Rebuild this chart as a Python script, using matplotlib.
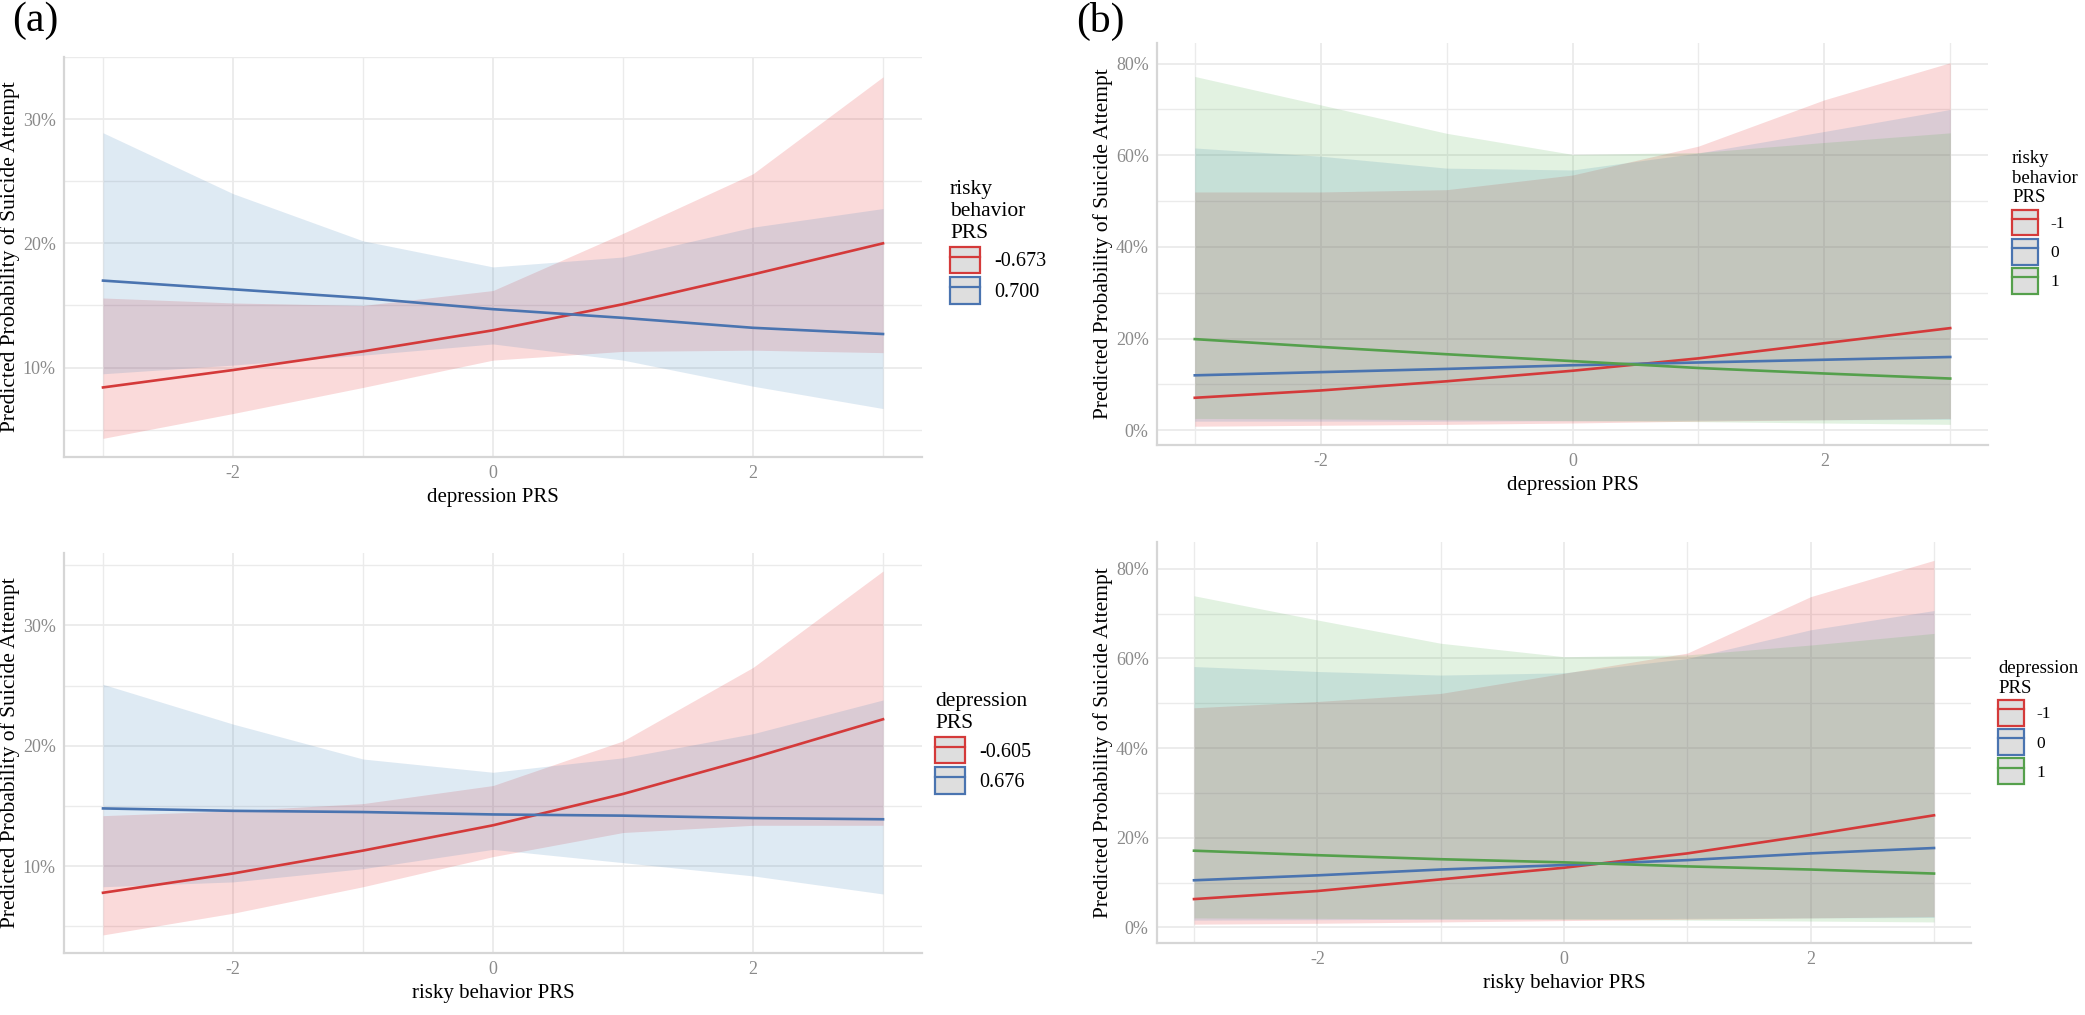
import matplotlib

matplotlib.use("Agg")

import matplotlib.pyplot as plt
from matplotlib.lines import Line2D
from matplotlib.patches import Patch
from matplotlib.legend_handler import HandlerTuple
from matplotlib.ticker import FixedLocator, FuncFormatter

plt.rcParams["font.family"] = ["Liberation Serif", "DejaVu Serif"]
plt.rcParams["axes.unicode_minus"] = False

# x grid (PRS, standardised)
X = [-3, -2, -1, 0, 1, 2, 3]

# (a) top: x = depression PRS, moderator = risky behavior PRS
a1_labels = ["-0.673", "0.700"]
a1_red_fit = [8.4, 9.8, 11.3, 13.0, 15.1, 17.5, 20.0]
a1_red_lo = [4.3, 6.3, 8.4, 10.6, 11.3, 11.4, 11.2]
a1_red_hi = [15.6, 15.2, 15.0, 16.2, 20.8, 25.6, 33.4]
a1_blue_fit = [17.0, 16.3, 15.6, 14.7, 14.0, 13.2, 12.7]
a1_blue_lo = [9.5, 10.2, 11.0, 11.9, 10.6, 8.5, 6.7]
a1_blue_hi = [28.9, 24.0, 20.2, 18.1, 18.9, 21.3, 22.8]

# (a) bottom: x = risky behavior PRS, moderator = depression PRS
a2_labels = ["-0.605", "0.676"]
a2_red_fit = [7.8, 9.4, 11.3, 13.4, 16.0, 19.0, 22.2]
a2_red_lo = [4.3, 6.1, 8.3, 10.8, 12.8, 13.4, 13.4]
a2_red_hi = [14.2, 14.6, 15.2, 16.7, 20.4, 26.5, 34.5]
a2_blue_fit = [14.8, 14.6, 14.5, 14.3, 14.2, 14.0, 13.9]
a2_blue_lo = [8.3, 8.7, 9.8, 11.4, 10.3, 9.2, 7.7]
a2_blue_hi = [25.1, 21.8, 18.9, 17.8, 19.0, 21.0, 23.8]

# (b) top: x = depression PRS, moderator = risky behavior PRS (-1, 0, 1)
b1_labels = ["-1", "0", "1"]
b1_red_fit = [7.1, 8.7, 10.7, 13.0, 15.7, 19.0, 22.3]
b1_red_lo = [0.9, 1.1, 1.3, 1.6, 2.0, 2.3, 2.6]
b1_red_hi = [52.0, 52.0, 52.5, 55.7, 62.0, 72.1, 80.2]
b1_blue_fit = [12.0, 12.7, 13.4, 14.2, 14.8, 15.4, 16.0]
b1_blue_lo = [2.0, 2.0, 2.0, 2.1, 2.2, 2.3, 2.4]
b1_blue_hi = [61.6, 59.8, 57.2, 56.8, 60.5, 65.2, 70.0]
b1_green_fit = [19.9, 18.2, 16.6, 15.1, 13.6, 12.4, 11.3]
b1_green_lo = [2.6, 2.5, 2.3, 2.1, 1.9, 1.6, 1.3]
b1_green_hi = [77.2, 71.0, 64.8, 60.2, 60.6, 62.8, 64.9]

# (b) bottom: x = risky behavior PRS, moderator = depression PRS (-1, 0, 1)
b2_labels = ["-1", "0", "1"]
b2_red_fit = [6.3, 8.1, 10.7, 13.3, 16.5, 20.6, 25.0]
b2_red_lo = [0.7, 0.9, 1.2, 1.5, 1.8, 2.1, 2.4]
b2_red_hi = [49.0, 50.4, 52.2, 56.7, 61.2, 73.8, 81.9]
b2_blue_fit = [10.5, 11.6, 12.9, 13.9, 15.0, 16.5, 17.7]
b2_blue_lo = [1.6, 1.7, 1.8, 1.9, 2.0, 2.1, 2.2]
b2_blue_hi = [58.2, 57.1, 56.3, 56.8, 60.0, 66.4, 70.7]
b2_green_fit = [17.1, 16.1, 15.2, 14.5, 13.6, 12.9, 12.0]
b2_green_lo = [2.1, 2.0, 1.9, 1.8, 1.6, 1.4, 1.2]
b2_green_hi = [74.0, 68.6, 63.4, 60.4, 60.8, 63.0, 65.6]

FILL_COLORS = ["#E41A1C", "#377EB8", "#4DAF4A"]
LINE_COLORS = ["#D43A3A", "#4A74B0", "#55A04C"]
GRID = "#EBEBEB"
AXIS = "#D6D6D6"
TICK = "#8A8A8A"

W, H = 2085, 1015


def px_box(left, top, right, bottom):
    return [left / W, 1 - bottom / H, (right - left) / W, (bottom - top) / H]


def draw_panel(fig, box, series, labels, xlabel, ylim, ymajor, yminor,
               legend_title, legend_xy, legend_size, key_height):
    ax = fig.add_axes(px_box(*box))
    for (fit, lo, hi), fc in zip(series, FILL_COLORS):
        ax.fill_between(X, lo, hi, color=fc, alpha=0.16, linewidth=0)
    for (fit, lo, hi), lc in zip(series, LINE_COLORS):
        ax.plot(X, fit, color=lc, linewidth=1.9)

    ax.set_xlim(-3.3, 3.3)
    ax.set_ylim(*ylim)
    ax.xaxis.set_major_locator(FixedLocator([-2, 0, 2]))
    ax.xaxis.set_minor_locator(FixedLocator([-3, -1, 1, 3]))
    ax.yaxis.set_major_locator(FixedLocator(ymajor))
    ax.yaxis.set_minor_locator(FixedLocator(yminor))
    ax.yaxis.set_major_formatter(FuncFormatter(lambda v, p: f"{v:.0f}%"))
    ax.grid(True, which="major", color=GRID, linewidth=1.3)
    ax.grid(True, which="minor", color=GRID, linewidth=1.0)
    ax.set_axisbelow(True)
    for side in ("top", "right"):
        ax.spines[side].set_visible(False)
    for side in ("left", "bottom"):
        ax.spines[side].set_color(AXIS)
        ax.spines[side].set_linewidth(1.6)
    ax.tick_params(which="both", length=0, colors=TICK, labelsize=13, pad=6)
    ax.set_xlabel(xlabel, fontsize=15, labelpad=4)
    ax.set_ylabel("Predicted Probability of Suicide Attempt", fontsize=15.5,
                  labelpad=2)

    handles = [
        (Patch(facecolor="#DEDEDE", edgecolor=lc, linewidth=1.6),
         Line2D([0], [1], color=lc, linewidth=1.6))
        for lc in LINE_COLORS[: len(labels)]
    ]
    fig.legend(
        handles,
        labels,
        title=legend_title,
        handler_map={tuple: HandlerTuple(ndivide=1)},
        loc="upper left",
        bbox_to_anchor=(legend_xy[0] / W, 1 - legend_xy[1] / H),
        frameon=False,
        fontsize=legend_size - 1,
        title_fontsize=legend_size,
        alignment="left",
        handlelength=1.5,
        handleheight=key_height,
        handletextpad=0.7,
        labelspacing=0.2,
        borderpad=0,
        borderaxespad=0,
    )
    return ax


fig = plt.figure(figsize=(W / 100, H / 100), dpi=100)

draw_panel(
    fig, (64, 57, 922, 457),
    [(a1_red_fit, a1_red_lo, a1_red_hi), (a1_blue_fit, a1_blue_lo, a1_blue_hi)],
    a1_labels, "depression PRS", (2.8, 35.0), [10, 20, 30], [5, 15, 25, 35],
    "risky\nbehavior\nPRS", (950, 180), 15.5, 1.65,
)
draw_panel(
    fig, (64, 553, 922, 953),
    [(a2_red_fit, a2_red_lo, a2_red_hi), (a2_blue_fit, a2_blue_lo, a2_blue_hi)],
    a2_labels, "risky behavior PRS", (2.8, 36.0), [10, 20, 30], [5, 15, 25, 35],
    "depression\nPRS", (935, 692), 15.5, 1.65,
)
draw_panel(
    fig, (1157, 43, 1988, 445),
    [(b1_red_fit, b1_red_lo, b1_red_hi), (b1_blue_fit, b1_blue_lo, b1_blue_hi),
     (b1_green_fit, b1_green_lo, b1_green_hi)],
    b1_labels, "depression PRS", (-3.2, 84.5), [0, 20, 40, 60, 80],
    [10, 30, 50, 70], "risky\nbehavior\nPRS", (2012, 150), 13.5, 1.9,
)
draw_panel(
    fig, (1157, 542, 1971, 943),
    [(b2_red_fit, b2_red_lo, b2_red_hi), (b2_blue_fit, b2_blue_lo, b2_blue_hi),
     (b2_green_fit, b2_green_lo, b2_green_hi)],
    b2_labels, "risky behavior PRS", (-3.5, 86.0), [0, 20, 40, 60, 80],
    [10, 30, 50, 70], "depression\nPRS", (1998, 660), 13.5, 1.9,
)

fig.text(12 / W, 1 - 2 / H, "(a)", fontsize=30, va="top", ha="left")
fig.text(1076 / W, 1 - 2 / H, "(b)", fontsize=30, va="top", ha="left")

fig.savefig("out.png", dpi=100)
